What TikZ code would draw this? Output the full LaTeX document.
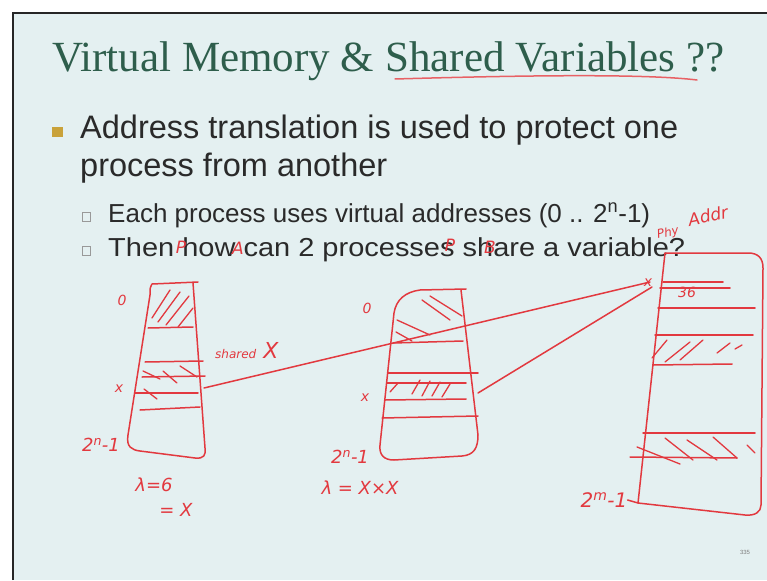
\documentclass[tikz,border=0pt]{standalone}
\usepackage{fontspec}
\setmainfont{Liberation Sans}
\newfontfamily\titlefont{Liberation Serif}
\newfontfamily\handfont{DejaVu Sans}
\definecolor{slidebg}{HTML}{E4F0F1}
\definecolor{titlegreen}{HTML}{2E5E4C}
\definecolor{ink}{HTML}{E2393F}
\definecolor{bulletgold}{HTML}{C9A23A}
\definecolor{textgray}{HTML}{2A2A2A}

\begin{document}
\begin{tikzpicture}[x=1pt,y=-1pt,
  pen/.style={draw=ink, line width=1.5pt, line cap=round, line join=round},
  hatch/.style={draw=ink, line width=1.3pt, line cap=round},
  hand/.style={text=ink, font=\handfont\itshape, inner sep=0pt},
  body/.style={text=textgray, anchor=base west, inner sep=0pt},
  subbox/.style={draw=gray!80, line width=0.9pt}
]
\useasboundingbox (0,0) rectangle (767,580);
% slide background and frame
\fill[white] (0,0) rectangle (767,580);
\fill[slidebg] (13,13) rectangle (767,580);
\draw[black!85, line width=2.5pt] (13,580) -- (13,13) -- (767,13);

% title
\node[anchor=base west, inner sep=0pt, text=titlegreen,
      font=\titlefont\fontsize{43}{50}\selectfont] (title) at (52,72)
  {Virtual Memory \& Shared Variables ??};
\draw[ink!80, line width=1.5pt, line cap=round]
  (395,79) .. controls (500,76) and (640,73) .. (697,80);

% bullets
\fill[bulletgold] (52,127) rectangle (63,137);
\node[body, font=\fontsize{32.5}{38}\selectfont] (b1) at (80,139)
  {Address translation is used to protect one};
\node[body, font=\fontsize{32.5}{38}\selectfont] (b2) at (80,176)
  {process from another};
\draw[subbox] (82,212) rectangle (90,221);
\node[body, font=\fontsize{26}{30}\selectfont] (s1) at (108,222)
  {Each process uses virtual addresses (0 .. 2\textsuperscript{n}-1)};
\draw[subbox] (82,246) rectangle (90,255);
\node[body, font=\fontsize{26}{30}\selectfont] (s2) at (108,256)
  {\scalebox{1.115}[1]{Then how can 2 processes share a variable?}};

% ink notes over the question
\node[hand, font=\handfont\itshape\fontsize{17}{19}\selectfont] (pa1) at (181,247) {P};
\node[hand, font=\handfont\itshape\fontsize{17}{19}\selectfont] (pa2) at (238,248) {A};
\node[hand, font=\handfont\itshape\fontsize{17}{19}\selectfont] (pb1) at (450,245) {P};
\node[hand, font=\handfont\itshape\fontsize{17}{19}\selectfont] (pb2) at (490,247) {B};

% process A address space
\draw[pen] (198,282) -- (152,284) .. controls (150,288) .. (150,295) -- (128,435)
  .. controls (126,447) and (132,450) .. (140,451) -- (195,458)
  .. controls (204,459) and (206,455) .. (205,448) -- (193,283);
\draw[pen] (148,328) -- (193,327);
\draw[pen] (145,362) -- (203,361);
\draw[pen] (142,377) -- (205,376);
\draw[pen] (135,393) -- (198,393);
\draw[pen] (140,410) -- (200,407);
\draw[hatch] (152,318) -- (170,290);
\draw[hatch] (158,322) -- (180,292);
\draw[hatch] (166,325) -- (189,296);
\draw[hatch] (178,327) -- (193,308);
\draw[hatch] (143,371) -- (160,379);
\draw[hatch] (163,371) -- (177,383);
\draw[hatch] (180,366) -- (197,377);
\draw[hatch] (144,389) -- (157,399);
\node[hand, font=\handfont\itshape\fontsize{14}{16}\selectfont] (a0) at (122,300) {0};
\node[hand, font=\handfont\itshape\fontsize{14}{16}\selectfont] (ax) at (119,389) {x};
\node[hand, font=\handfont\itshape\fontsize{18}{20}\selectfont] (an) at (101,445) {2\textsuperscript{n}-1};
\node[hand, anchor=base west, font=\handfont\itshape\fontsize{22}{24}\selectfont] (ash) at (215,358)
  {{\fontsize{12}{14}\selectfont shared} X};
\node[hand, font=\handfont\itshape\fontsize{18}{20}\selectfont] (al) at (154,485) {λ=6};
\node[hand, font=\handfont\itshape\fontsize{18}{20}\selectfont] (ax2) at (176,510) {= X};

% process B address space
\draw[pen] (466,289) -- (420,290) .. controls (405,292) and (396,300) .. (394,313)
  -- (380,445) .. controls (379,455) and (384,460) .. (394,460) -- (462,456)
  .. controls (474,455) and (478,448) .. (478,435) -- (461,290);
\draw[pen] (393,343) -- (463,341);
\draw[pen] (388,373) -- (478,373);
\draw[pen] (387,383) -- (466,383);
\draw[pen] (385,400) -- (466,399);
\draw[pen] (382,418) -- (478,416);
\draw[hatch] (422,300) -- (450,320);
\draw[hatch] (430,296) -- (462,316);
\draw[hatch] (397,320) -- (430,335);
\draw[hatch] (396,332) -- (412,341);
\draw[hatch] (412,394) -- (420,380);
\draw[hatch] (422,396) -- (430,381);
\draw[hatch] (432,396) -- (440,382);
\draw[hatch] (442,397) -- (450,384);
\draw[hatch] (390,392) -- (398,383);
\node[hand, font=\handfont\itshape\fontsize{14}{16}\selectfont] (b0) at (367,308) {0};
\node[hand, font=\handfont\itshape\fontsize{14}{16}\selectfont] (bx) at (365,398) {x};
\node[hand, font=\handfont\itshape\fontsize{18}{20}\selectfont] (bn) at (350,457) {2\textsuperscript{n}-1};
\node[hand, font=\handfont\itshape\fontsize{18}{20}\selectfont] (bl) at (360,488) {λ = X×X};

% physical memory
\draw[pen] (665,253) -- (748,253) .. controls (758,253) and (763,258) .. (763,268)
  -- (761,505) .. controls (761,512) and (755,516) .. (745,515) -- (638,503) -- cycle;
\draw[pen] (663,282) -- (723,282);
\draw[pen] (660,288) -- (730,288);
\draw[pen] (658,308) -- (755,308);
\draw[pen] (655,335) -- (753,335);
\draw[pen] (653,365) -- (732,364);
\draw[pen] (643,433) -- (755,433);
\draw[pen] (630,457) -- (737,458);
\draw[hatch] (652,358) -- (667,340);
\draw[hatch] (665,362) -- (690,342);
\draw[hatch] (680,360) -- (703,340);
\draw[hatch] (717,353) -- (730,343);
\draw[hatch] (735,349) -- (742,345);
\draw[hatch] (665,438) -- (693,460);
\draw[hatch] (687,440) -- (717,460);
\draw[hatch] (713,437) -- (737,458);
\draw[hatch] (747,445) -- (755,453);
\draw[hatch] (637,447) -- (680,464);
\node[hand, font=\handfont\itshape\fontsize{14}{16}\selectfont] (p36) at (687,292) {36};
\node[hand, font=\handfont\itshape\fontsize{14}{16}\selectfont] (px) at (648,283) {x};
\node[hand, rotate=12, font=\handfont\itshape\fontsize{12}{14}\selectfont] (phy) at (668,233) {Phy};
\node[hand, rotate=12, font=\handfont\itshape\fontsize{17}{19}\selectfont] (addr) at (708,216) {Addr};
\node[hand, font=\handfont\itshape\fontsize{20}{22}\selectfont] (pm) at (604,500) {2\textsuperscript{m}-1};
\draw[pen] (pm.east) -- (638,503);

% shared variable mapped from both processes
\coordinate (xa) at (204,388);
\coordinate (xb) at (478,393);
\coordinate (pa) at (650,282);
\coordinate (pb) at (652,287);
\draw[pen] (xa) -- (pa);
\draw[pen] (xb) -- (pb);

% slide number
\node[text=gray, font=\fontsize{6}{7}\selectfont] (num) at (745,552) {335};
\end{tikzpicture}
\end{document}
